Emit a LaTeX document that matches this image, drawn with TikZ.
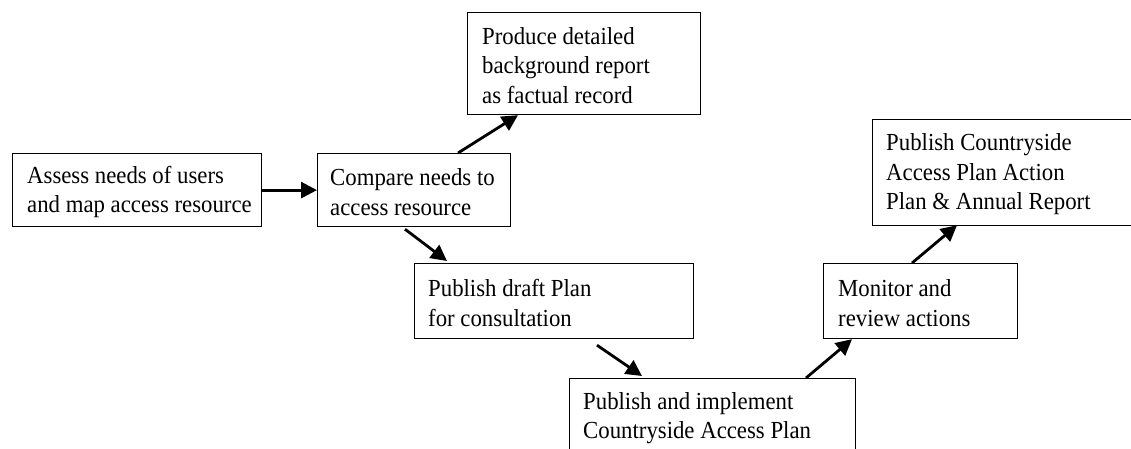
\documentclass[tikz,border=0pt]{standalone}
\usepackage{fontspec}
\setmainfont{Liberation Serif}[FakeStretch=0.93]
\usetikzlibrary{arrows.meta}
\begin{document}
\begin{tikzpicture}[x=1pt,y=-1pt,
  box/.style={draw, line width=1.2pt, rectangle, inner sep=0pt, anchor=north west},
  txt/.style={font=\fontsize{24.5}{29.5}\selectfont, align=left, inner sep=0pt, anchor=west},
  arr/.style={line width=2.8pt, -{Triangle[length=16pt,width=16pt]}}]
\useasboundingbox (0,0) rectangle (1131,449);
% boxes
\node[box, minimum width=249pt, minimum height=73pt] (A) at (12,153) {};
\node[box, minimum width=193pt, minimum height=73pt] (B) at (317,153) {};
\node[box, minimum width=233pt, minimum height=102pt] (C) at (467,12) {};
\node[box, minimum width=279pt, minimum height=75pt] (D) at (414,263) {};
\node[box, minimum width=286pt, minimum height=75pt] (E) at (569,378) {};
\node[box, minimum width=194pt, minimum height=75pt] (F) at (823,263) {};
\node[box, minimum width=262pt, minimum height=106pt] (G) at (872,119) {};
% texts
\node[txt] (tA) at ([xshift=15pt,yshift=-2pt]A.west) {Assess needs of users\\and map access resource};
\node[txt] (tB) at ([xshift=13pt,yshift=-2pt]B.west) {Compare needs to\\access resource};
\node[txt] (tC) at ([xshift=15pt,yshift=-2pt]C.west) {Produce detailed\\background report\\as factual record};
\node[txt] (tD) at ([xshift=14pt,yshift=-2pt]D.west) {Publish draft Plan\\for consultation};
\node[txt] (tE) at ([xshift=14pt,yshift=-2pt]E.west) {Publish and implement\\Countryside Access Plan};
\node[txt] (tF) at ([xshift=15pt,yshift=-2pt]F.west) {Monitor and\\review actions};
\node[txt] (tG) at ([xshift=14pt,yshift=-2pt]G.west) {Publish Countryside\\Access Plan Action\\Plan \& Annual Report};
% connectors
\draw[arr] (A.east) -- (B.west);
\draw[arr] ([xshift=141pt]B.north west) -- ([xshift=51pt]C.south west);
\draw[arr] ([xshift=88pt,yshift=-2pt]B.south west) -- ([xshift=33pt,yshift=2pt]D.north west);
\draw[arr] ([xshift=183pt,yshift=-6pt]D.south west) -- ([xshift=73pt,yshift=2pt]E.north west);
\draw[arr] ([xshift=237pt]E.north west) -- ([xshift=29pt]F.south west);
\draw[arr] ([xshift=89pt]F.north west) -- ([xshift=85pt,yshift=1pt]G.south west);
\end{tikzpicture}
\end{document}
